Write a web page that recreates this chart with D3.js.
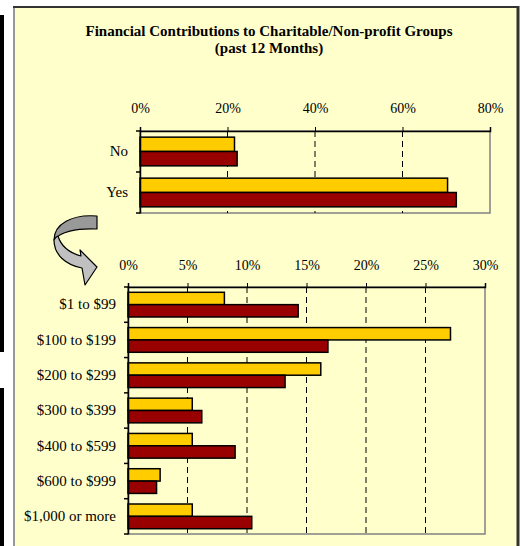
<!DOCTYPE html>
<html>
<head>
<meta charset="utf-8">
<script src="https://cdn.jsdelivr.net/npm/d3@7"></script>
<style>
  body { margin: 0; background: #fff; }
  svg { display: block; }
  text { font-family: "Liberation Serif", "Times New Roman", serif; fill: #000; }
</style>
</head>
<body>
<script>
var width = 522;
var height = 546;

// data (percent)
var topCategories = ["No", "Yes"];
var topYellow = [21.6, 70.3];
var topRed = [22.2, 72.3];
var topTicks = [0, 20, 40, 60, 80];

var amountCategories = ["$1 to $99", "$100 to $199", "$200 to $299", "$300 to $399",
                        "$400 to $599", "$600 to $999", "$1,000 or more"];
var amountYellow = [8.1, 27.1, 16.2, 5.4, 5.4, 2.7, 5.4];
var amountRed = [14.3, 16.8, 13.2, 6.2, 9.0, 2.4, 10.4];
var amountTicks = [0, 5, 10, 15, 20, 25, 30];

var seriesColors = ["#FFCC00", "#990000"];

var svg = d3.select("body")
  .append("svg")
  .attr("width", width)
  .attr("height", height);

// black strips on the far left
svg.append("rect").attr("x", 0).attr("y", 15).attr("width", 4).attr("height", 337).attr("fill", "#000");
svg.append("rect").attr("x", 0).attr("y", 388).attr("width", 4).attr("height", 158).attr("fill", "#000");

// yellow panel
svg.append("rect")
  .attr("x", 14).attr("y", 7)
  .attr("width", 504).attr("height", 560)
  .attr("fill", "#FFFFCC");
svg.append("line").attr("x1", 14).attr("x2", 14).attr("y1", 7).attr("y2", 546)
  .attr("stroke", "#999").attr("stroke-width", 2);
svg.append("line").attr("x1", 13).attr("x2", 519).attr("y1", 7).attr("y2", 7)
  .attr("stroke", "#333").attr("stroke-width", 2);
svg.append("line").attr("x1", 518).attr("x2", 518).attr("y1", 6).attr("y2", 546)
  .attr("stroke", "#333").attr("stroke-width", 3);

// title
var title = svg.append("text")
  .attr("text-anchor", "middle")
  .attr("font-weight", "bold")
  .attr("font-size", "15px");
title.append("tspan").attr("x", 269).attr("y", 36).text("Financial Contributions to Charitable/Non-profit Groups");
title.append("tspan").attr("x", 269).attr("y", 53).text("(past 12 Months)");

function drawPanel(opts) {
  var x = d3.scaleLinear()
    .domain([0, opts.max])
    .range([opts.left, opts.right]);

  var y = d3.scaleBand()
    .domain(opts.categories)
    .range([opts.top, opts.bottom])
    .paddingInner(0.3)
    .paddingOuter(0.15);

  var sub = d3.scaleBand()
    .domain([0, 1])
    .range([0, y.bandwidth()]);

  var g = svg.append("g");

  // plot frame (grey right and bottom)
  g.append("rect")
    .attr("x", opts.left).attr("y", opts.top)
    .attr("width", opts.right - opts.left)
    .attr("height", opts.bottom - opts.top)
    .attr("fill", "none")
    .attr("stroke", "#808080")
    .attr("stroke-width", 1.5);

  // dashed gridlines
  g.selectAll(".grid")
    .data(opts.ticks.slice(1, -1))
    .enter()
    .append("line")
    .attr("x1", function(d) { return x(d); })
    .attr("x2", function(d) { return x(d); })
    .attr("y1", opts.top)
    .attr("y2", opts.bottom)
    .attr("stroke", "#000")
    .attr("stroke-width", 1)
    .attr("stroke-dasharray", "6,4");

  // bars
  var rows = opts.categories.map(function(c, i) {
    return { cat: c, vals: [opts.seriesA[i], opts.seriesB[i]] };
  });

  var row = g.selectAll(".row")
    .data(rows)
    .enter()
    .append("g")
    .attr("transform", function(d) { return "translate(0," + y(d.cat) + ")"; });

  row.selectAll("rect")
    .data(function(d) { return d.vals; })
    .enter()
    .append("rect")
    .attr("x", x(0))
    .attr("y", function(d, i) { return sub(i); })
    .attr("width", function(d) { return x(d) - x(0); })
    .attr("height", sub.bandwidth())
    .attr("fill", function(d, i) { return seriesColors[i]; })
    .attr("stroke", "#000")
    .attr("stroke-width", 1.5);

  // top axis
  var xAxis = d3.axisTop(x)
    .tickValues(opts.ticks)
    .tickFormat(function(d) { return d + "%"; })
    .tickSize(4)
    .tickPadding(opts.labelPad);

  var ax = g.append("g")
    .attr("transform", "translate(0," + opts.top + ")")
    .call(xAxis);
  ax.select(".domain").attr("stroke", "#000").attr("stroke-width", 1.5);
  ax.selectAll("text")
    .attr("font-family", "Liberation Serif, serif")
    .attr("font-size", "14px");

  // left axis
  var yAxis = d3.axisLeft(y)
    .tickSize(0)
    .tickPadding(12);
  var ay = g.append("g")
    .attr("transform", "translate(" + opts.left + ",0)")
    .call(yAxis);
  ay.select(".domain").attr("stroke", "#000").attr("stroke-width", 1.5);
  ay.selectAll("text")
    .attr("font-family", "Liberation Serif, serif")
    .attr("font-size", "15px");

  // category boundary ticks
  var bounds = d3.range(opts.categories.length + 1).map(function(i) {
    return opts.top + i * y.step();
  });
  ay.selectAll(".bound")
    .data(bounds)
    .enter()
    .append("line")
    .attr("x1", -4).attr("x2", 0)
    .attr("y1", function(d) { return d; })
    .attr("y2", function(d) { return d; })
    .attr("stroke", "#000")
    .attr("stroke-width", 1.5);
}

drawPanel({
  categories: topCategories,
  seriesA: topYellow,
  seriesB: topRed,
  ticks: topTicks,
  max: 80,
  left: 140, right: 490,
  top: 131, bottom: 213,
  labelPad: 14
});

drawPanel({
  categories: amountCategories,
  seriesA: amountYellow,
  seriesB: amountRed,
  ticks: amountTicks,
  max: 30,
  left: 128, right: 485,
  top: 287, bottom: 534,
  labelPad: 13
});

// curved arrow pointing from the top panel to the lower panel
var arrow = svg.append("g")
  .attr("stroke", "#000")
  .attr("stroke-width", 1.2)
  .attr("stroke-linejoin", "round");
arrow.append("path")
  .attr("d", "M97,216 C72,214 54,224 54,240 C60,232 76,228 97,229 Z")
  .attr("fill", "#999999");
arrow.append("path")
  .attr("d", "M54,240 C54,255 66,265 82,268 L85,285 L97,267 L80,250 L81,256 C70,253 61,246 58,236 C56,237 55,238 54,240 Z")
  .attr("fill", "#C0C0C0");
</script>
</body>
</html>
